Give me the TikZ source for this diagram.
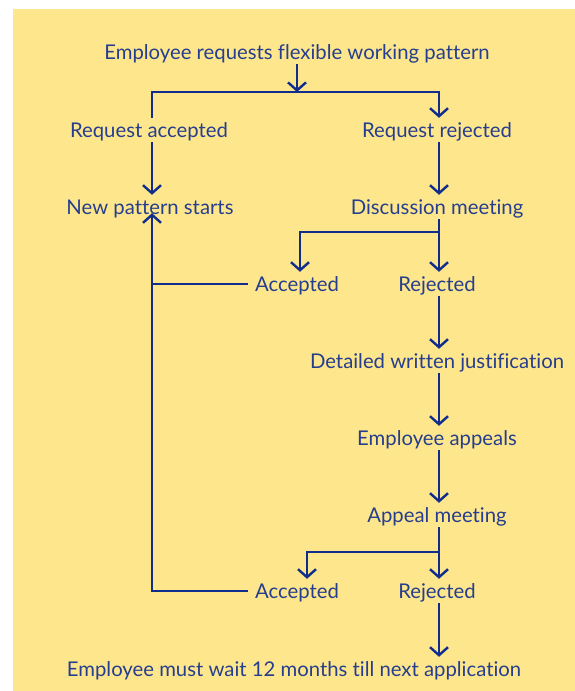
\documentclass[tikz,border=0pt]{standalone}
\usepackage{fontspec}
\setmainfont[Ligatures=NoCommon]{Lato}
\usetikzlibrary{arrows.meta}
\definecolor{bgyellow}{RGB}{254,230,140}
\definecolor{txtblue}{RGB}{38,62,142}
\definecolor{lnblue}{RGB}{16,44,140}
\begin{document}
\begin{tikzpicture}[x=1pt,y=-1pt,
  lbl/.style={font=\fontsize{20.3}{24}\selectfont, text=txtblue, text height=15.5pt, text depth=0.5pt, inner ysep=4pt, inner xsep=7pt},
  ln/.style={draw=lnblue, line width=2.4pt},
  arr/.style={ln, -{Straight Barb[length=8pt,width=18pt]}}]
\useasboundingbox (0,0) rectangle (575,691);
\fill[white] (0,0) rectangle (575,691);
\fill[bgyellow] (13,9) rectangle (575,691);
\coordinate (cL) at (152,0);
\coordinate (cR) at (439,0);
\coordinate (j1) at (297,92);
\coordinate (j2) at (439,232);
\coordinate (k1) at (300,232);
\coordinate (j3) at (439,552);
\coordinate (k2) at (307,552);

\node[lbl] (title) at (297,52) {Employee requests flexible working pattern};
\node[lbl] (ra) at (149,130) {Request accepted};
\node[lbl] (rr) at (437,130) {Request rejected};
\node[lbl] (nps) at (150,207) {New pattern starts};
\node[lbl] (dm) at (437,207) {Discussion meeting};
\node[lbl] (acc1) at (297,284) {Accepted};
\node[lbl] (rej1) at (437,284) {Rejected};
\node[lbl] (dwj) at (437,361) {Detailed written justification};
\node[lbl] (ea) at (437,438) {Employee appeals};
\node[lbl] (am) at (437,515) {Appeal meeting};
\node[lbl] (acc2) at (297,591) {Accepted};
\node[lbl] (rej2) at (437,591) {Rejected};
\node[lbl] (fin) at (294,669) {Employee must wait 12 months till next application};

\draw[arr] (title.south) -- (j1);
\draw[arr] (ra.north -| cL) |- (j1) -| (rr.north -| cR);
\draw[arr] (ra.south -| cL) -- (nps.north -| cL);
\draw[arr] (rr.south -| cR) -- (dm.north -| cR);
\draw[arr] (dm.south -| cR) -- (rej1.north -| cR);
\draw[arr] (j2) -- (k1) -- (k1 |- acc1.north);
\draw[arr] (rej1.south -| cR) -- (dwj.north -| cR);
\draw[arr] (dwj.south -| cR) -- (ea.north -| cR);
\draw[arr] (ea.south -| cR) -- (am.north -| cR);
\draw[arr] (am.south -| cR) -- (rej2.north -| cR);
\draw[arr] (j3) -- (k2) -- (k2 |- acc2.north);
\draw[arr] (rej2.south -| cR) -- (fin.north -| cR);
\draw[ln] (acc1.west) -- (acc1.west -| cL);
\draw[arr, shorten >=-6pt] (acc2.west) -| (nps.south -| cL);
\end{tikzpicture}
\end{document}
